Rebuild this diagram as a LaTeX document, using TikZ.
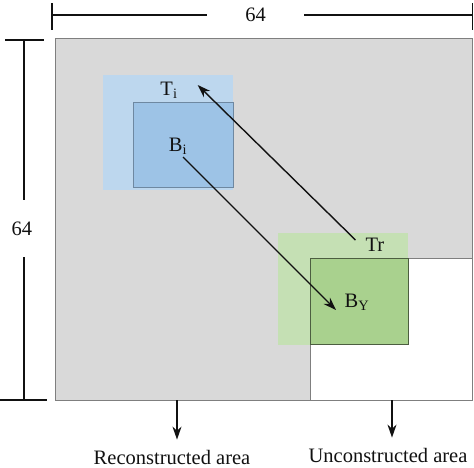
\documentclass[tikz,border=0pt]{standalone}
\usepackage{fontspec}
\setmainfont{Liberation Serif}
\usetikzlibrary{arrows.meta}
\definecolor{frgray}{HTML}{D9D9D9}
\definecolor{frline}{HTML}{7F7F7F}
\definecolor{tblue}{HTML}{BDD7EE}
\definecolor{bblue}{HTML}{9DC3E6}
\definecolor{tgreen}{HTML}{C5E0B4}
\definecolor{bgreen}{HTML}{A9D18E}
\definecolor{ink}{HTML}{111111}

\begin{document}
\begin{tikzpicture}[x=1pt, y=-1pt, font=\fontsize{20.5}{24}\selectfont,
  area/.style={anchor=north west, inner sep=0pt, outer sep=0pt},
  lab/.style={inner sep=0pt, text=ink},
  dim/.style={draw=ink, line width=1.4pt},
  ar/.style={-{Stealth[length=13pt, width=9pt]}, ink, line width=1.4pt}]
\useasboundingbox (0,0) rectangle (474,467);

% image frame and unconstructed part
\node[area, fill=frgray, draw=frline, line width=1pt, minimum width=417pt, minimum height=362pt] (frame) at (55,38) {};
\node[area, fill=white, draw=frline, line width=1pt, minimum width=162pt, minimum height=142pt] (uncon) at (310,258) {};

% template / block
\node[area, fill=tblue, minimum width=130pt, minimum height=115pt] (ti) at (103,75) {};
\node[area, fill=bblue, draw=bblue!70!black, minimum width=100pt, minimum height=85pt] (bi) at (133,102) {};
\node[area, fill=tgreen, minimum width=130pt, minimum height=112pt] (tr) at (278,233) {};
\node[area, fill=bgreen, draw=bgreen!45!black, line width=1pt, minimum width=98pt, minimum height=86pt] (by) at (310,258) {};

\node[lab] (tilab) at (169,90) {T\textsubscript{i}};
\node[lab] (bilab) at (178,146) {B\textsubscript{i}};
\node[lab] (trlab) at (375,245) {Tr};
\node[lab] (bylab) at (357,302) {B\textsubscript{Y}};

\draw[ar] ([xshift=-10pt, yshift=5pt]trlab.west) -- ([xshift=20pt, yshift=5pt]tilab.east);
\draw[ar] ([xshift=5pt, yshift=-11pt]bilab.center) -- ([xshift=-21pt, yshift=-8pt]bylab.center);

% size marks
\node[lab, minimum width=97pt] (wdim) at (255.5,15) {64};
\node[lab, minimum height=57pt] (hdim) at (22,228.5) {64};
\coordinate (wl) at (52,15);
\coordinate (wr) at (473,15);
\coordinate (ht) at (24,40);
\coordinate (hb) at (24,400);
\draw[dim] (52,3) -- (52,30);
\draw[dim] (472.5,3) -- (472.5,30);
\draw[dim] (wl) -- (wdim.west);
\draw[dim] (wdim.east) -- (wr);
\draw[dim] (5,40) -- (44,40);
\draw[dim] (0,400) -- (47,400);
\draw[dim] (ht) -- (ht |- hdim.north);
\draw[dim] (hb |- hdim.south) -- (hb);

% area labels
\coordinate (rc) at (177,400);
\coordinate (uc) at (392,400);
\node[lab] (rclab) at (172,457) {Reconstructed area};
\node[lab] (uclab) at (388,455) {Unconstructed area};
\draw[ar] (rc) -- ([yshift=10pt]rclab.north -| rc);
\draw[ar] (uc) -- ([yshift=10pt]uclab.north -| uc);
\end{tikzpicture}
\end{document}
